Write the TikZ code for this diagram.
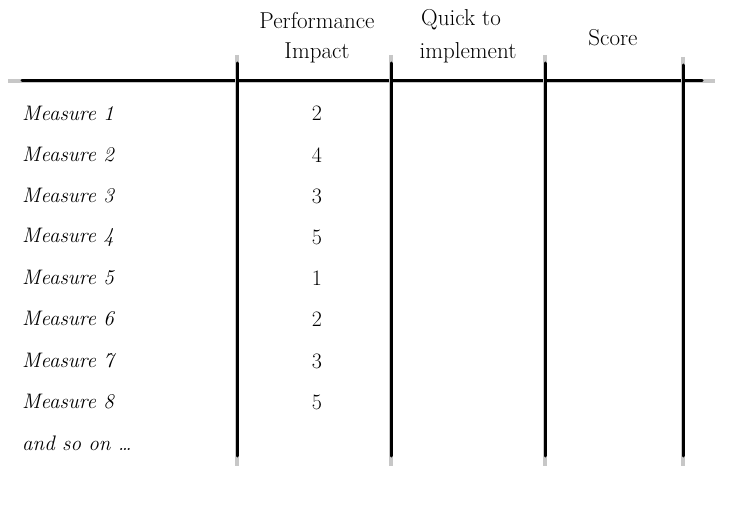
\documentclass[tikz,border=0pt]{standalone}
\usetikzlibrary{decorations.pathmorphing}
\begin{document}
\begin{tikzpicture}[x=1pt,y=-1pt,
  hdr/.style={font=\fontsize{23}{26}\selectfont, align=center, inner sep=0pt},
  rowlbl/.style={font=\fontsize{21}{24}\selectfont\itshape, anchor=west, inner sep=0pt},
  num/.style={font=\fontsize{22}{24}\selectfont, inner sep=0pt},
  rule/.style={line width=3pt, black, line cap=round},
  ruleshade/.style={line width=4.2pt, black!22, line cap=butt}]
\useasboundingbox (0,0) rectangle (746,505);
% rules
\draw[ruleshade] (8,81) -- (715,81);
\draw[rule] (22,81) -- (702,81);
\foreach \x/\t in {237/55,391/55,545/55,683/57}{
  \draw[ruleshade] (\x,\t) -- (\x,466);
  \draw[rule] (\x,\t+8) -- (\x,456);
}
% headers
\node[hdr] (h1a) at (317,21) {Performance};
\node[hdr] (h1b) at (317,53) {Impact};
\node[hdr] (h2a) at (461,20) {Quick to};
\node[hdr] (h2b) at (468,53) {implement};
\node[hdr] (h3) at (613,38) {Score};
% rows
\foreach \i/\y/\n in {1/113/2,2/155/4,3/196/3,4/237/5,5/278/1,6/319/2,7/361/3,8/402/5}{
  \node[rowlbl] (m\i) at (22,\y) {Measure \i};
  \node[num] (n\i) at (317,\y) {\n};
}
\node[rowlbl] (more) at (22,443) {and so on \dots};
\end{tikzpicture}
\end{document}
